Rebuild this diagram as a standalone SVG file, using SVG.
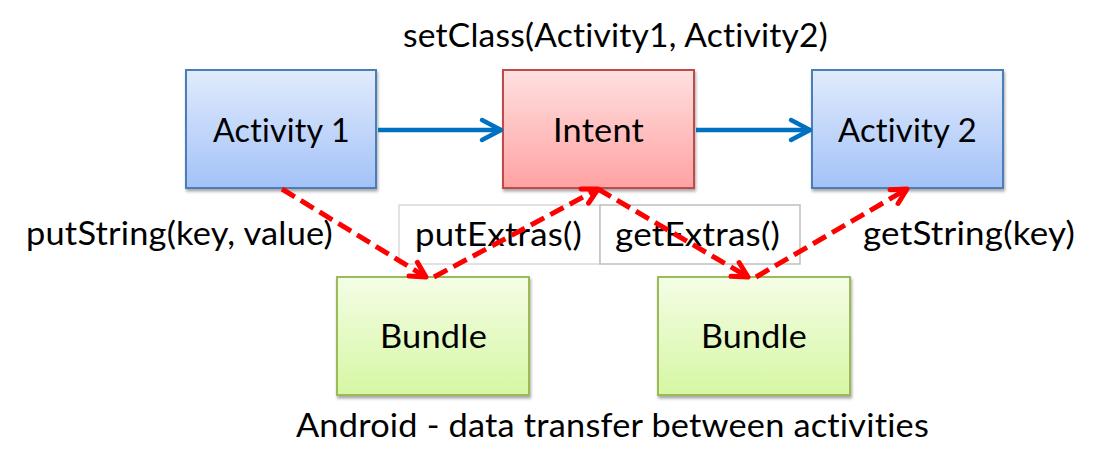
<svg xmlns="http://www.w3.org/2000/svg" width="1102" height="471" viewBox="0 0 1102 471">
<defs>
<linearGradient id="gBlue" x1="0" y1="0" x2="0" y2="1"><stop offset="0" stop-color="#e1ebfd"/><stop offset="1" stop-color="#a3c2f7"/></linearGradient>
<linearGradient id="gRed" x1="0" y1="0" x2="0" y2="1"><stop offset="0" stop-color="#ffe0e0"/><stop offset="1" stop-color="#ffa2a2"/></linearGradient>
<linearGradient id="gGreen" x1="0" y1="0" x2="0" y2="1"><stop offset="0" stop-color="#f4fde6"/><stop offset="1" stop-color="#d6f7a3"/></linearGradient>
<filter id="sh" x="-10%" y="-10%" width="125%" height="130%"><feDropShadow dx="1" dy="2.5" stdDeviation="1.8" flood-color="#000" flood-opacity="0.35"/></filter>
<marker id="mBlue" markerUnits="userSpaceOnUse" viewBox="-26 -15 30 30" markerWidth="30" markerHeight="30" refX="0" refY="0" orient="auto">
<path d="M-19,-10 L0,0 L-19,10" fill="none" stroke="#0070c0" stroke-width="4.5" stroke-linecap="round" stroke-linejoin="round"/>
</marker>
<marker id="mRed" markerUnits="userSpaceOnUse" viewBox="-22 -13 26 26" markerWidth="26" markerHeight="26" refX="0" refY="0" orient="auto">
<path d="M-15,-8 L0,0 L-15,8" fill="none" stroke="#ff0000" stroke-width="5" stroke-linecap="round" stroke-linejoin="round"/>
</marker>
</defs>
<style>
.t{font-family:Lato,"Liberation Sans",sans-serif;font-size:32px;fill:#000;font-variant-ligatures:none;font-feature-settings:"liga" 0,"clig" 0,"dlig" 0;letter-spacing:0.2px}
.blue{fill:url(#gBlue);stroke:#4a7ebb;stroke-width:2}
.red{fill:url(#gRed);stroke:#be4b48;stroke-width:2}
.green{fill:url(#gGreen);stroke:#9bbb59;stroke-width:2}
.bl{stroke:#0070c0;stroke-width:4.5;fill:none;marker-end:url(#mBlue)}
.rd{stroke:#ff0000;stroke-width:5;fill:none;stroke-dasharray:15 7;marker-end:url(#mRed)}
</style>
<rect width="1102" height="471" fill="#fff"/>

<text class="t" x="403" y="47" textLength="425" lengthAdjust="spacingAndGlyphs">setClass(Activity1, Activity2)</text>

<g id="activity1">
<rect class="blue" x="186" y="70" width="190" height="118" filter="url(#sh)"/>
<text class="t" x="213" y="142" textLength="137" lengthAdjust="spacingAndGlyphs">Activity 1</text>
</g>
<g id="intent">
<rect class="red" x="503" y="70" width="191" height="118" filter="url(#sh)"/>
<text class="t" x="553" y="142" textLength="91" lengthAdjust="spacingAndGlyphs">Intent</text>
</g>
<g id="activity2">
<rect class="blue" x="812" y="70" width="191" height="118" filter="url(#sh)"/>
<text class="t" x="838" y="142" textLength="139" lengthAdjust="spacingAndGlyphs">Activity 2</text>
</g>

<g id="putExtrasLabel">
<rect x="399" y="205" width="201" height="59" fill="#fff" stroke="#d9d9d9" stroke-width="1.5"/>
<text class="t" x="415" y="246" textLength="167" lengthAdjust="spacingAndGlyphs">putExtras()</text>
</g>
<g id="getExtrasLabel">
<rect x="600" y="205" width="200" height="59" fill="#fff" stroke="#bfbfbf" stroke-width="1.5"/>
<text class="t" x="615" y="246" textLength="165" lengthAdjust="spacingAndGlyphs">getExtras()</text>
</g>

<g id="bundle1">
<rect class="green" x="337" y="277" width="192" height="118" filter="url(#sh)"/>
<text class="t" x="380" y="348" textLength="107" lengthAdjust="spacingAndGlyphs">Bundle</text>
</g>
<g id="bundle2">
<rect class="green" x="658" y="277" width="192" height="118" filter="url(#sh)"/>
<text class="t" x="701" y="348" textLength="106" lengthAdjust="spacingAndGlyphs">Bundle</text>
</g>

<g id="connectors">
<line class="bl" x1="378" y1="130" x2="501" y2="130"/>
<line class="bl" x1="696" y1="130" x2="810" y2="130"/>
<line class="rd" x1="282" y1="189" x2="426" y2="277"/>
<line class="rd" x1="434" y1="277" x2="598" y2="189"/>
<line class="rd" x1="598" y1="189" x2="748" y2="277"/>
<line class="rd" x1="756" y1="277" x2="907" y2="189"/>
</g>

<text class="t" x="26" y="245" textLength="307" lengthAdjust="spacingAndGlyphs">putString(key, value)</text>
<text class="t" x="863" y="245" textLength="212" lengthAdjust="spacingAndGlyphs">getString(key)</text>
<text class="t" x="296" y="437" textLength="633" lengthAdjust="spacingAndGlyphs">Android - data transfer between activities</text>
</svg>
